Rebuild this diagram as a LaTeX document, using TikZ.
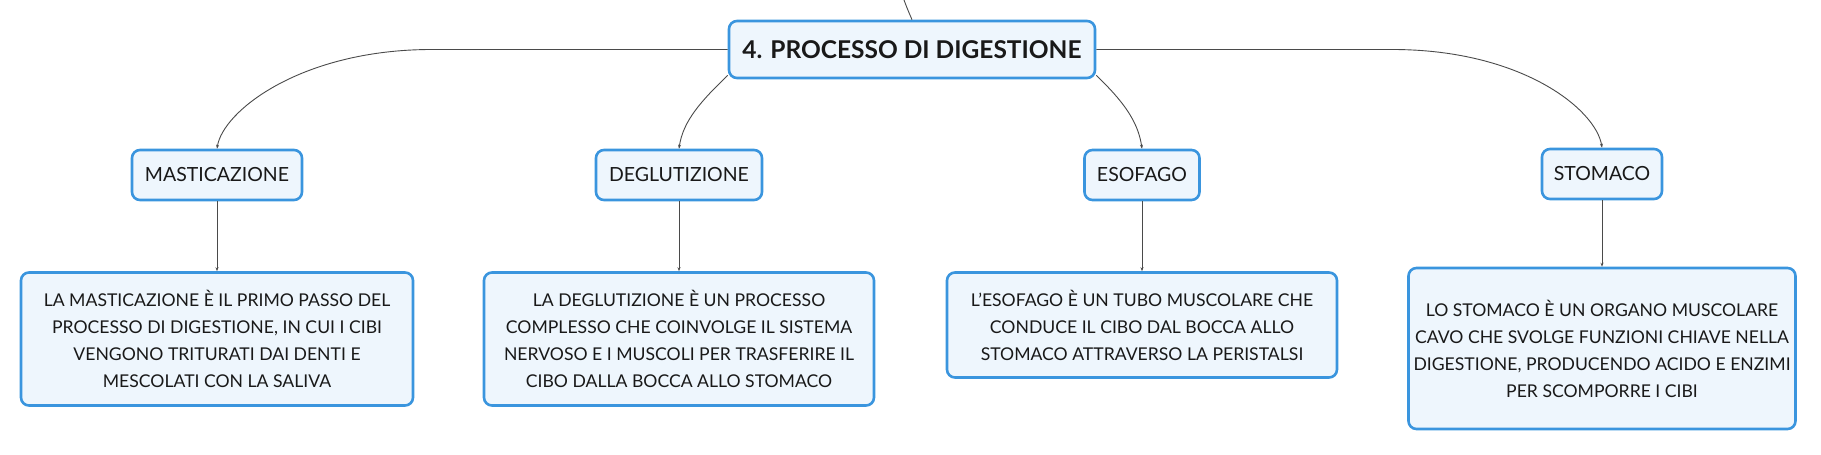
\documentclass[tikz,border=0pt]{standalone}
\usepackage{fontspec}
\setmainfont{Lato}
\usetikzlibrary{arrows.meta}
\definecolor{boxline}{HTML}{3A95DE}
\definecolor{boxfill}{HTML}{EEF6FD}
\definecolor{linkgray}{HTML}{4A4A4A}
\begin{document}
\begin{tikzpicture}[x=1pt,y=-1pt,
  box/.style={draw=boxline,fill=boxfill,line width=2.6pt,rounded corners=8pt,align=center,inner sep=0pt,text=black!90},
  topic/.style={box,font=\fontsize{24.5}{30}\selectfont\bfseries},
  sub/.style={box,font=\fontsize{19.5}{24}\selectfont,minimum height=50pt},
  note/.style={box,font=\fontsize{17.6}{27}\selectfont},
  wire/.style={draw=linkgray,line width=0.9pt},
  link/.style={wire,-{Stealth[length=4pt,width=3pt]}}]

\useasboundingbox (0,0) rectangle (1821,455);

% topics
\node[topic,minimum width=366pt,minimum height=57pt] (main) at (912,49.5) {4. PROCESSO DI DIGESTIONE};
\node[sub,minimum width=170pt] (mast) at (217,175) {MASTICAZIONE};
\node[sub,minimum width=166pt] (degl) at (679,175) {DEGLUTIZIONE};
\node[sub,minimum width=115pt] (esof) at (1142,175) {ESOFAGO};
\node[sub,minimum width=120pt] (stom) at (1602,174) {STOMACO};

% notes
\node[note,minimum width=392pt,minimum height=133pt] (mastnote) at (217,339) {LA MASTICAZIONE È IL PRIMO PASSO DEL\\PROCESSO DI DIGESTIONE, IN CUI I CIBI\\VENGONO TRITURATI DAI DENTI E\\MESCOLATI CON LA SALIVA};
\node[note,minimum width=390pt,minimum height=133pt] (deglnote) at (679,339) {LA DEGLUTIZIONE È UN PROCESSO\\COMPLESSO CHE COINVOLGE IL SISTEMA\\NERVOSO E I MUSCOLI PER TRASFERIRE IL\\CIBO DALLA BOCCA ALLO STOMACO};
\node[note,minimum width=390pt,minimum height=105pt] (esofnote) at (1142,325) {L'ESOFAGO È UN TUBO MUSCOLARE CHE\\CONDUCE IL CIBO DAL BOCCA ALLO\\STOMACO ATTRAVERSO LA PERISTALSI};
\node[note,minimum width=387pt,minimum height=161pt] (stomnote) at (1602,348.5) {LO STOMACO È UN ORGANO MUSCOLARE\\CAVO CHE SVOLGE FUNZIONI CHIAVE NELLA\\DIGESTIONE, PRODUCENDO ACIDO E ENZIMI\\PER SCOMPORRE I CIBI};

% links
\coordinate (up) at (904,0);
\draw[wire] (up) .. controls +(3,8) .. (main.north);
\draw[link] (main.west) -- ++(-296,0) .. controls +(-130,0) and +(6,-38) .. (mast.north);
\draw[link] (main.188) .. controls +(-26,25) and +(4,-28) .. (degl.north);
\draw[link] (main.-8) .. controls +(26,25) and +(-4,-28) .. (esof.north);
\draw[link] (main.east) -- ++(296,0) .. controls +(130,0) and +(-6,-38) .. (stom.north);
\draw[link] (mast) -- (mastnote);
\draw[link] (degl) -- (deglnote);
\draw[link] (esof) -- (esofnote);
\draw[link] (stom) -- (stomnote);
\end{tikzpicture}
\end{document}
